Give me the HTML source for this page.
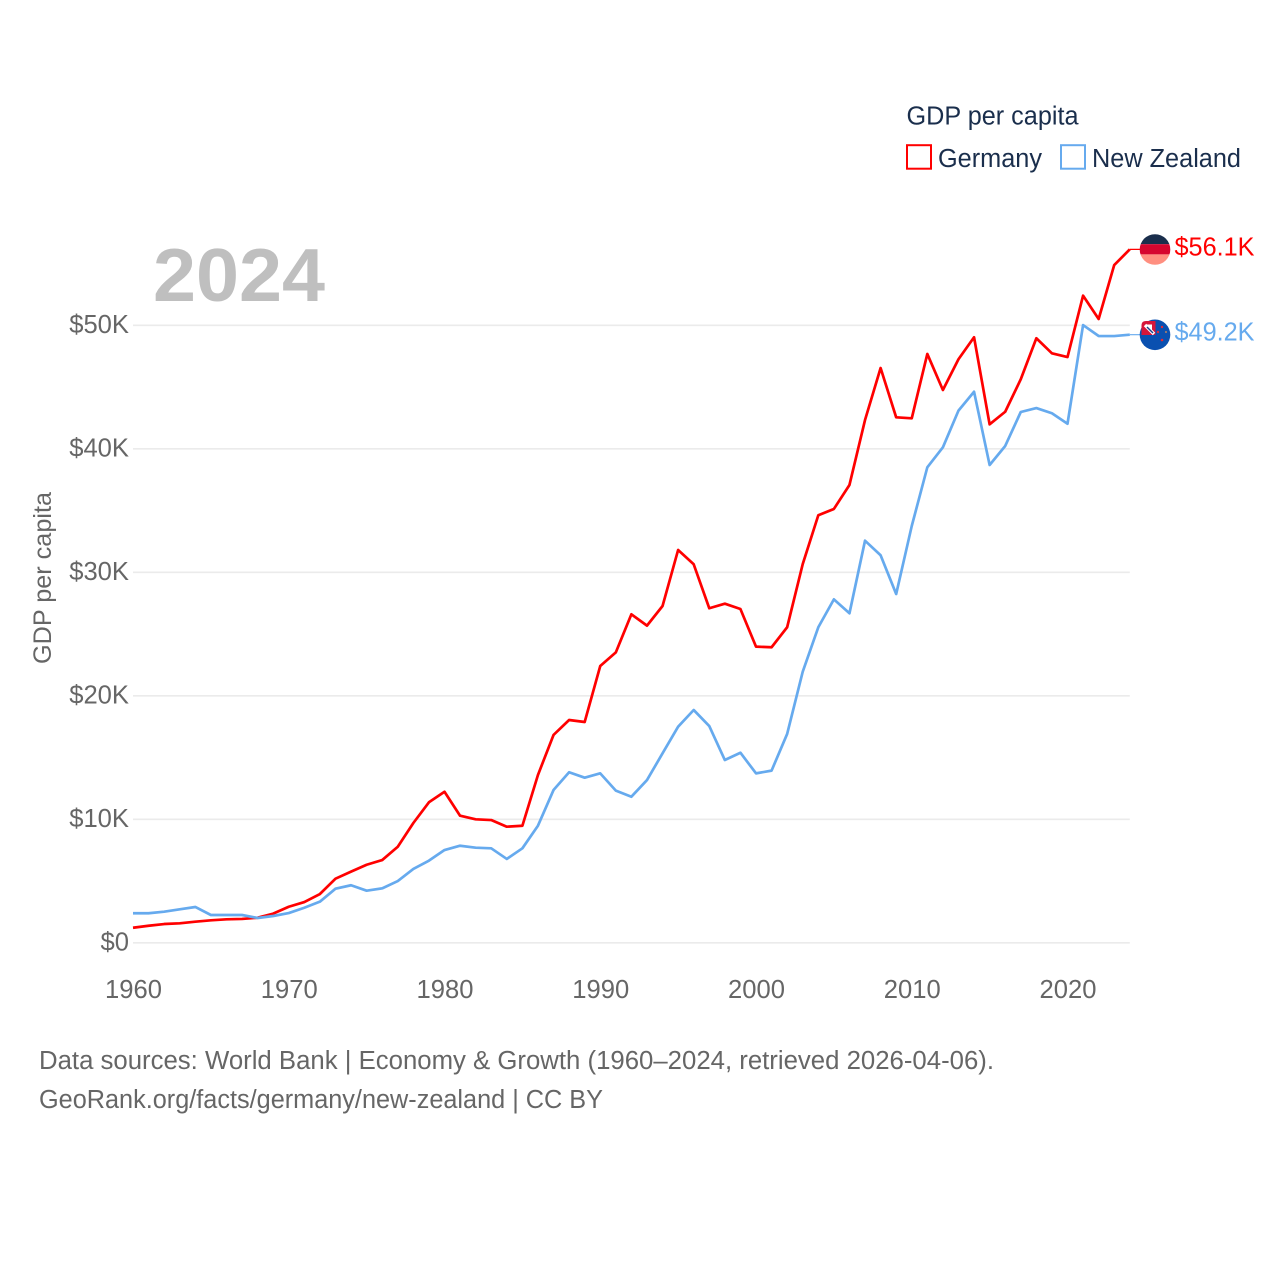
<!DOCTYPE html>
<html lang="en">
<head>
<meta charset="utf-8">
<title>GDP per capita: Germany and New Zealand</title>
<style>
  html, body { margin: 0; padding: 0; background: #fff; }
  svg { display: block; font-family: "Liberation Sans", sans-serif; }
</style>
</head>
<body>
<svg id="chart" width="1280" height="1280" viewBox="0 0 1280 1280" xmlns="http://www.w3.org/2000/svg">
  <rect x="0" y="0" width="1280" height="1280" fill="#ffffff"/>
  <g id="grid"></g>
  <g id="yticks"></g>
  <g id="xticks"></g>
  <text x="153" y="301" font-size="75" font-weight="bold" fill="#bfbfbf" textLength="172" lengthAdjust="spacingAndGlyphs">2024</text>
  <text transform="translate(51,664) rotate(-90)" font-size="25" fill="#666666" textLength="172" lengthAdjust="spacingAndGlyphs">GDP per capita</text>
  <g id="series"></g>

  <g>
    <clipPath id="de-clip"><circle cx="1155" cy="249.5" r="15.3"/></clipPath>
    <g clip-path="url(#de-clip)">
      <rect x="1139" y="234" width="32" height="10.2" fill="#1a2e4c"/>
      <rect x="1139" y="244.2" width="32" height="10.2" fill="#d6062f"/>
      <rect x="1139" y="254.4" width="32" height="11" fill="#ff8f80"/>
    </g>
  </g>
  <g>
    <circle cx="1155" cy="334.8" r="15.3" fill="#0a50b0"/>
    <path d="M1146 321 H1155.5 V335 H1141.5 V325.5 Q1141.5 321 1146 321 Z" fill="#d6163a"/>
    <path d="M1146 324.5 L1152 324.5 L1152 331 Z" fill="#ffffff"/>
    <path d="M1145 325 L1154 334" stroke="#ffffff" stroke-width="3.4" fill="none"/>
    <path d="M1147 327 L1153 333" stroke="#1a3f8c" stroke-width="1.4" fill="none"/>
    <circle cx="1162" cy="327" r="1.2" fill="#e0283a"/>
    <circle cx="1158" cy="332" r="1.2" fill="#e0283a"/>
    <circle cx="1166" cy="332" r="1.1" fill="#9a7a70"/>
    <circle cx="1162" cy="340" r="1.3" fill="#e0283a"/>
  </g>

  <text x="1174.5" y="255.5" font-size="25.5" fill="#ff0000" textLength="80" lengthAdjust="spacingAndGlyphs">$56.1K</text>
  <text x="1174.5" y="340.5" font-size="25.5" fill="#66aaee" textLength="80" lengthAdjust="spacingAndGlyphs">$49.2K</text>

  <g>
    <text x="906.5" y="124.5" font-size="25.5" fill="#1a2e4c" textLength="172" lengthAdjust="spacingAndGlyphs">GDP per capita</text>
    <g>
      <rect x="907" y="145.2" width="24" height="23.5" fill="none" stroke="#ff0000" stroke-width="2"/>
      <text x="938" y="167" font-size="25.5" fill="#1a2e4c" textLength="104" lengthAdjust="spacingAndGlyphs">Germany</text>
    </g>
    <g>
      <rect x="1061" y="145.2" width="24" height="23.5" fill="none" stroke="#66aaee" stroke-width="2"/>
      <text x="1092" y="167" font-size="25.5" fill="#1a2e4c" textLength="149" lengthAdjust="spacingAndGlyphs">New Zealand</text>
    </g>
  </g>

  <text x="39" y="1069" font-size="25.5" fill="#666666" textLength="955" lengthAdjust="spacingAndGlyphs">Data sources: World Bank | Economy &amp; Growth (1960–2024, retrieved 2026-04-06).</text>
  <text x="39" y="1108" font-size="25.5" fill="#666666" textLength="564" lengthAdjust="spacingAndGlyphs">GeoRank.org/facts/germany/new-zealand | CC BY</text>
</svg>
<script>
const startYear = 1960;
const xTickYears = [1960, 1970, 1980, 1990, 2000, 2010, 2020];
const yTickValues = [0, 10, 20, 30, 40, 50];
const yTickLabels = ["$0", "$10K", "$20K", "$30K", "$40K", "$50K"];
const germanyValues = [
  1.22, 1.38, 1.52, 1.58, 1.71, 1.82, 1.90, 1.93, 2.03, 2.36,
  2.92, 3.30, 3.95, 5.19, 5.76, 6.32, 6.70, 7.78, 9.70, 11.38,
  12.23, 10.29, 10.00, 9.94, 9.40, 9.48, 13.59, 16.83, 18.04, 17.88,
  22.41, 23.52, 26.60, 25.68, 27.27, 31.81, 30.65, 27.09, 27.46, 27.03,
  23.98, 23.93, 25.55, 30.67, 34.62, 35.13, 37.07, 42.33, 46.54, 42.55,
  42.47, 47.68, 44.76, 47.25, 49.03, 41.98, 43.00, 45.63, 48.95, 47.73,
  47.43, 52.40, 50.51, 54.88, 56.15
];
const newZealandValues = [
  2.39, 2.39, 2.52, 2.71, 2.90, 2.25, 2.25, 2.25, 2.01, 2.17,
  2.41, 2.84, 3.33, 4.38, 4.66, 4.22, 4.41, 5.00, 5.98, 6.65,
  7.51, 7.86, 7.70, 7.65, 6.79, 7.65, 9.48, 12.37, 13.81, 13.37,
  13.72, 12.32, 11.83, 13.18, 15.34, 17.50, 18.85, 17.55, 14.80, 15.39,
  13.72, 13.94, 16.91, 21.95, 25.55, 27.81, 26.68, 32.56, 31.38, 28.24,
  33.75, 38.50, 40.12, 43.09, 44.62, 38.69, 40.23, 42.98, 43.30, 42.88,
  42.03, 50.02, 49.13, 49.13, 49.24
];

const SVG_NS = "http://www.w3.org/2000/svg";
function xScale(year) { return 133 + (year - 1960) * 15.575; }
function yScale(value) { return 942.8 - value * 12.35; }

const gridGroup = document.getElementById("grid");
const yTickGroup = document.getElementById("yticks");
const xTickGroup = document.getElementById("xticks");
const seriesGroup = document.getElementById("series");

yTickValues.forEach(function (value, i) {
  const line = document.createElementNS(SVG_NS, "line");
  
  
  line.setAttribute("x1", xScale(1960));
  line.setAttribute("x2", xScale(2024));
  line.setAttribute("y1", yScale(value));
  line.setAttribute("y2", yScale(value));
  line.setAttribute("stroke", "#ebebeb");
  line.setAttribute("stroke-width", "1.6");
  gridGroup.appendChild(line);

  const label = document.createElementNS(SVG_NS, "text");
  
  
  label.setAttribute("x", 129);
  label.setAttribute("y", yScale(value) + 7.7);
  label.setAttribute("text-anchor", "end");
  label.setAttribute("font-size", "25.6");
  label.setAttribute("fill", "#666666");
  label.textContent = yTickLabels[i];
  yTickGroup.appendChild(label);
});

xTickYears.forEach(function (year) {
  const label = document.createElementNS(SVG_NS, "text");
  
  
  label.setAttribute("x", xScale(year) + 0.5);
  label.setAttribute("y", 998);
  label.setAttribute("text-anchor", "middle");
  label.setAttribute("font-size", "25.6");
  label.setAttribute("fill", "#666666");
  label.textContent = String(year);
  xTickGroup.appendChild(label);
});

function pointsFor(values) {
  return values.map(function (value, i) {
    return xScale(startYear + i).toFixed(2) + "," + yScale(value).toFixed(2);
  }).join(" ");
}

const germanyConnector = document.createElementNS(SVG_NS, "line");


germanyConnector.setAttribute("x1", xScale(2024));
germanyConnector.setAttribute("x2", 1155);
germanyConnector.setAttribute("y1", yScale(germanyValues[germanyValues.length - 1]));
germanyConnector.setAttribute("y2", yScale(germanyValues[germanyValues.length - 1]));
germanyConnector.setAttribute("stroke", "#ff0000");
germanyConnector.setAttribute("stroke-width", "1.2");
seriesGroup.appendChild(germanyConnector);

const zealandConnector = document.createElementNS(SVG_NS, "line");


zealandConnector.setAttribute("x1", xScale(2024));
zealandConnector.setAttribute("x2", 1155);
zealandConnector.setAttribute("y1", yScale(newZealandValues[newZealandValues.length - 1]));
zealandConnector.setAttribute("y2", yScale(newZealandValues[newZealandValues.length - 1]));
zealandConnector.setAttribute("stroke", "#66aaee");
zealandConnector.setAttribute("stroke-width", "1.2");
seriesGroup.appendChild(zealandConnector);

const germanyLine = document.createElementNS(SVG_NS, "polyline");


germanyLine.setAttribute("points", pointsFor(germanyValues));
germanyLine.setAttribute("fill", "none");
germanyLine.setAttribute("stroke", "#ff0000");
germanyLine.setAttribute("stroke-width", "2.7");
germanyLine.setAttribute("stroke-linejoin", "round");
seriesGroup.appendChild(germanyLine);

const zealandLine = document.createElementNS(SVG_NS, "polyline");


zealandLine.setAttribute("points", pointsFor(newZealandValues));
zealandLine.setAttribute("fill", "none");
zealandLine.setAttribute("stroke", "#66aaee");
zealandLine.setAttribute("stroke-width", "2.7");
zealandLine.setAttribute("stroke-linejoin", "round");
seriesGroup.appendChild(zealandLine);
</script>
</body>
</html>
